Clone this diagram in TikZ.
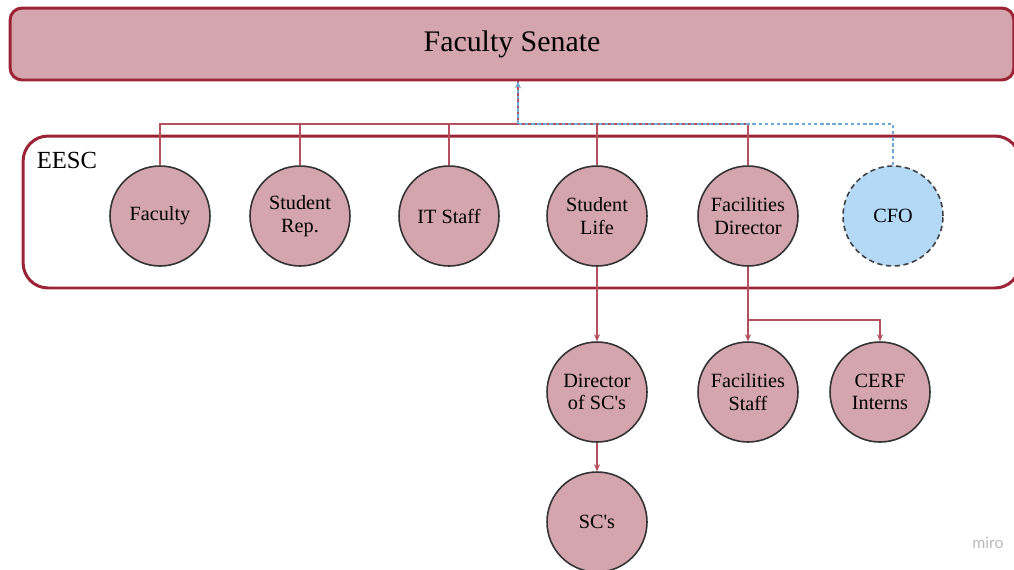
\documentclass[tikz,border=0pt]{standalone}
\usepackage{fontspec}
\setmainfont{Liberation Serif}
\setsansfont{Lato}
\usetikzlibrary{arrows.meta,shapes.geometric}
\definecolor{rosefill}{HTML}{D4A5AC}
\definecolor{maroon}{HTML}{9B2335}
\definecolor{linkred}{HTML}{B5505F}
\definecolor{cfoblue}{HTML}{B3D9F7}
\definecolor{cfoline}{HTML}{6FA8D6}
\tikzset{
    member/.style={circle, draw=black!80, line width=0.9pt, fill=rosefill,
      minimum size=2cm, inner sep=0pt, align=center,
      font=\fontsize{11.5}{12.8}\selectfont},
    link/.style={draw=linkred, line width=0.6pt},
    down/.style={link, -{Stealth[length=4pt,width=3.5pt]}},
    cfolink/.style={draw=cfoline, line width=0.6pt, dashed, dash pattern=on 2pt off 1.5pt},
}
\begin{document}
\begin{tikzpicture}[x=0.02cm, y=-0.02cm]
 \useasboundingbox (0,0) rectangle (1014,569);
 % top box and committee frame
 \node[rectangle, draw=maroon, line width=1.7pt, fill=rosefill, rounded corners=0.24cm,
    minimum width=20.08cm, minimum height=1.44cm,
    font=\fontsize{17}{20}\selectfont] (senate) at (512,44) {Faculty Senate};
 \node[rectangle, draw=maroon, line width=1.7pt, rounded corners=0.5cm,
    minimum width=19.94cm, minimum height=3.04cm] (eesc) at (521.5,212) {};
 \node[font=\fontsize{14}{16}\selectfont] (eesclabel) at (67,160) {EESC};
 % committee members
 \node[member] (fac) at (160,216) {Faculty};
 \node[member] (srep) at (300,216) {Student\\Rep.};
 \node[member] (it) at (449,216) {IT Staff};
 \node[member] (slife) at (597,216) {Student\\Life};
 \node[member] (fdir) at (748,216) {Facilities\\Director};
 \node[member, fill=cfoblue, draw=black!75, dashed, dash pattern=on 3pt off 2pt] (cfo) at (893,216) {CFO};
 % below the committee
 \node[member] (dsc) at (597,392) {Director\\of SC\textquotesingle s};
 \node[member] (fstaff) at (748,392) {Facilities\\Staff};
 \node[member] (cerf) at (880,392) {CERF\\Interns};
 \node[member] (sc) at (597,522) {SC\textquotesingle s};
 % connectors
 \coordinate (hub) at (518,124);
 \coordinate (split) at (748,320);
 \foreach \m in {fac,srep,it,slife,fdir}
   \draw[link] (\m.north) |- (hub);
 \draw[link] (hub) -- (hub |- senate.south);
 \draw[cfolink] (cfo.north) |- (hub);
 \draw[cfolink, -{Stealth[length=4pt,width=3.5pt]}, cfoline] (hub) -- (hub |- senate.south);
 \draw[down] (slife) -- (dsc);
 \draw[down] (fdir) -- (fstaff);
 \draw[down] (split) -| (cerf.north);
 \draw[down] (dsc) -- (sc);
 \node[font=\sffamily\fontsize{9}{9}\selectfont, text=black!28] (miro) at (988,543) {miro};
\end{tikzpicture}
\end{document}
